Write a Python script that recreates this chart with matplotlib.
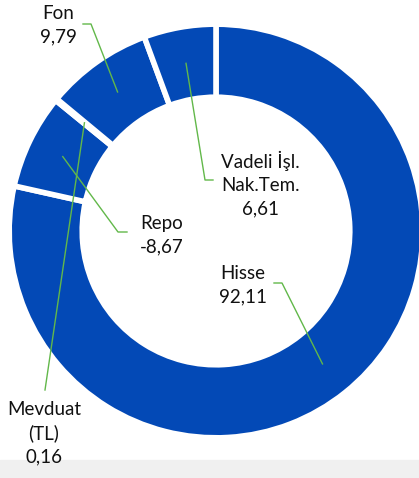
import numpy as np
import matplotlib.pyplot as plt
from matplotlib.patches import Rectangle

# data (clockwise from 12 o'clock)
labels = ["Hisse", "Repo", "Mevduat\n(TL)", "Fon", "Vadeli İşl.\nNak.Tem."]
values = [92.11, -8.67, 0.16, 9.79, 6.61]

blue = "#0349B6"
green = "#62B84A"

plt.rcParams["font.family"] = ["Lato", "DejaVu Sans"]

W, H = 419, 478
fig = plt.figure(figsize=(W / 100, H / 100), dpi=100)
ax = fig.add_axes([0, 0, 1, 1])

# background band at the bottom
ax.add_patch(Rectangle((0, 0), W, H - 460, color="#F0F0F0", zorder=0))

# white edges eat ~2.8px on each side, so the ring is drawn a bit wider
explode = [0.0, 0.035, 0.035, 0.035, 0.035]
wedges, _ = ax.pie(np.abs(values), radius=206.8, center=(216, H - 231),
                   startangle=90, counterclock=False, explode=explode,
                   colors=[blue] * len(values),
                   wedgeprops=dict(width=73, edgecolor="white", linewidth=4))

ax.set_xlim(0, W)
ax.set_ylim(0, H)
ax.set_aspect("equal")
ax.axis("off")

# label text position and leader-line elbow (pixel coords from the top)
text_pos = [(243, 285), (162, 235), (44, 433), (58, 25), (260, 184)]
elbows = [[(282, 283), (274, 283)],
          [(118, 232), (127, 232)],
          [(45, 390)],
          [(91, 24), (83, 24)],
          [(205, 180), (213, 180)]]

for w, lab, v, tp, el in zip(wedges, labels, values, text_pos, elbows):
    mid = np.deg2rad((w.theta1 + w.theta2) / 2)
    rm = w.r - w.width / 2
    ax_x = w.center[0] + rm * np.cos(mid)
    ax_y = w.center[1] + rm * np.sin(mid)
    xs = [ax_x] + [p[0] for p in el]
    ys = [ax_y] + [H - p[1] for p in el]
    ax.plot(xs, ys, color=green, lw=1, zorder=3)
    txt = lab + "\n" + f"{v:.2f}".replace(".", ",")
    ax.text(tp[0], H - tp[1], txt, ha="center", va="center", fontsize=13.5,
            color="#111111", linespacing=1.42, zorder=4)

plt.savefig("out.png", dpi=100)
plt.close()
